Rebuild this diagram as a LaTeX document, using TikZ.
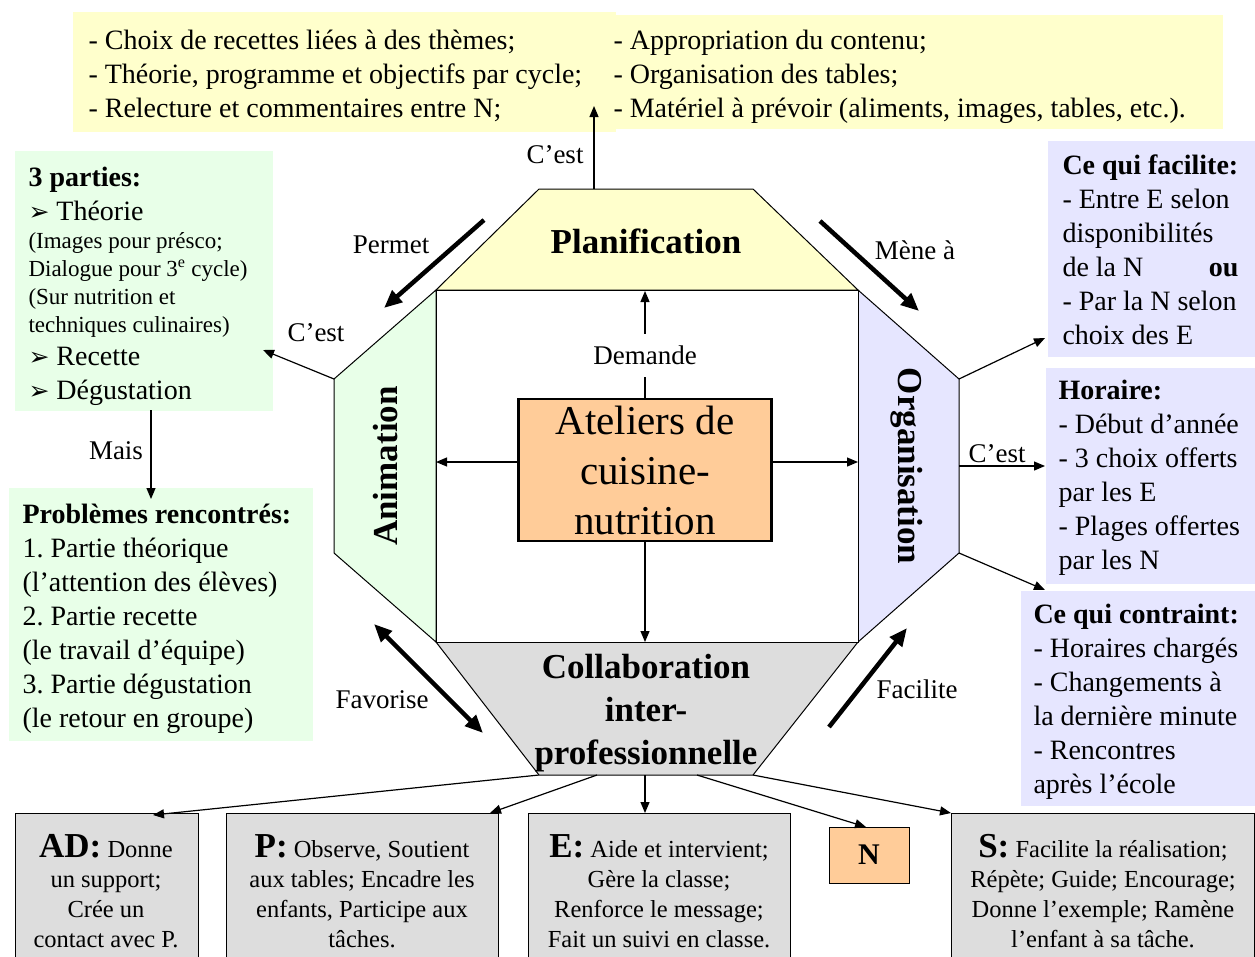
\documentclass[tikz,border=0pt]{standalone}
\usepackage{fontspec}
\setmainfont{Liberation Serif}
\newfontfamily\dejavu{DejaVu Sans}
\usetikzlibrary{arrows.meta,calc}
\definecolor{yel}{HTML}{FFFFCC}
\definecolor{grn}{HTML}{E8FFE8}
\definecolor{lav}{HTML}{E6E6FF}
\definecolor{gry}{HTML}{DDDDDD}
\definecolor{peach}{HTML}{FFCC99}
\newcommand{\fs}[2]{\fontsize{#1}{#2}\selectfont}
\newcommand{\tri}{{\dejavu\fs{25}{25}➢}}
\frenchspacing
\begin{document}
\begin{tikzpicture}[x=1pt,y=-1pt,line width=1pt,
  txt/.style={inner sep=0pt,anchor=north west,align=left,font=\fs{28}{34}},
  small/.style={inner sep=0pt,anchor=north west,align=left,font=\fs{23}{28}},
  lbl/.style={inner sep=1pt,font=\fs{27}{30}},
  big/.style={inner sep=0pt,font=\fs{35}{43}\bfseries,align=center},
  arr/.style={-{Triangle[length=11pt,width=9pt]},line width=1.2pt},
  fat/.style={-{Triangle[length=18pt,width=15pt]},line width=4.5pt},
  fatboth/.style={{Triangle[length=18pt,width=15pt]}-{Triangle[length=18pt,width=15pt]},line width=4.5pt},
  bbox/.style={draw,line width=1pt,fill=gry,inner sep=0pt,anchor=north west},
  bt/.style={align=center,font=\fs{24.5}{30},inner sep=0pt,anchor=north},
  panel/.style={inner sep=0pt,anchor=north west}]
\useasboundingbox (0,0) rectangle (1255,956);

% ---------- background panels ----------
\node[panel,fill=yel,minimum width=543pt,minimum height=120pt] (ytl) at (72,11) {};
\node[panel,fill=yel,minimum width=610pt,minimum height=114pt] (ytr) at (612,14) {};
\node[panel,fill=grn,minimum width=258pt,minimum height=260pt] (g1) at (14,150) {};
\node[panel,fill=grn,minimum width=304pt,minimum height=253pt] (g2) at (8,487) {};
\node[panel,fill=lav,minimum width=208pt,minimum height=216pt] (rf) at (1047,140) {};
\node[panel,fill=lav,minimum width=210pt,minimum height=216pt] (rh) at (1045,367) {};
\node[panel,fill=lav,minimum width=235pt,minimum height=215pt] (rc) at (1020,590) {};

% ---------- texts of panels ----------
\node[txt] (ytlT) at (88,25) {\strut- Choix de recettes liées à des thèmes;\\- Théorie, programme et objectifs par cycle;\\- Relecture et commentaires entre N;};
\node[txt] (ytrT) at (613,25) {\strut- Appropriation du contenu;\\- Organisation des tables;\\- Matériel à prévoir (aliments, images, tables, etc.).};

\node[txt] (g1a) at (28,162) {\strut\textbf{3 parties:}\\\tri\ Théorie};
\node[small] (g1b) at (28,228.5) {\strut(Images pour présco;\\Dialogue pour 3\textsuperscript{e} cycle)\\(Sur nutrition et\\techniques culinaires)};
\node[txt] (g1c) at (28,341) {\strut\tri\ Recette\\\tri\ Dégustation};

\node[txt] (g2T) at (22,499) {\strut\textbf{Problèmes rencontrés:}\\1. Partie théorique\\(l’attention des élèves)\\2. Partie recette\\(le travail d’équipe)\\3. Partie dégustation\\(le retour en groupe)};

\node[txt] (rfT) at (1062,150) {\strut\textbf{Ce qui facilite:}\\- Entre E selon\\disponibilités\\\makebox[176pt][l]{de la N\hfill\textbf{ou}}\\- Par la N selon\\choix des E};
\node[txt] (rhT) at (1058,375) {\strut\textbf{Horaire:}\\- Début d’année\\- 3 choix offerts\\par les E\\- Plages offertes\\par les N};
\node[txt] (rcT) at (1033,599) {\strut\textbf{Ce qui contraint:}\\- Horaires chargés\\- Changements à\\la dernière minute\\- Rencontres\\après l’école};

% ---------- octagon ----------
\coordinate (p1) at (539,189); \coordinate (p2) at (753,189);
\coordinate (q1) at (436,290); \coordinate (q2) at (858,290);
\coordinate (r1) at (334,379); \coordinate (r2) at (334,553);
\coordinate (s1) at (959,379); \coordinate (s2) at (959,553);
\coordinate (q3) at (436,642); \coordinate (q4) at (858,642);
\coordinate (b1) at (539,775); \coordinate (b2) at (753,775);

\draw[fill=yel] (p1) -- (p2) -- (q2) -- (q1) -- cycle;
\draw[fill=grn] (q1) -- (r1) -- (r2) -- (q3) -- cycle;
\draw[fill=lav] (q2) -- (s1) -- (s2) -- (q4) -- cycle;
\draw[fill=gry] (q3) -- (q4) -- (b2) -- (b1) -- cycle;
\draw[fill=white] (q1) rectangle (q4);

\node[big] (plan) at (646,241) {Planification};
\node[big,rotate=90] (anim) at (386,466) {Animation};
\node[big,rotate=-90] (orga) at (907,466) {Organisation};
\node[big] (collab) at (646,713) {Collaboration\\inter-\\professionnelle};

\node[draw,line width=2.5pt,fill=peach,minimum width=253pt,minimum height=142pt,inner sep=0pt,
      align=center,font=\fs{41}{50}] (atel) at (645,470) {Ateliers de\\cuisine-\\nutrition};

% ---------- central arrows ----------
\coordinate (pT) at (645,291);
\coordinate (aL) at (436,462);
\coordinate (aR) at (858,462);
\coordinate (aB) at (645,642);
\draw[arr] (atel.north) -- node[pos=0.4,fill=white,inner xsep=2pt,inner ysep=12pt,font=\fs{27}{30}] (dem) {Demande} (pT);
\draw[arr] (atel.west |- aL) -- (aL);
\draw[arr] (atel.east |- aR) -- (aR);
\draw[arr] (atel.south) -- (aB);

% ---------- thick arrows ----------
\coordinate (pm1) at (484,220); \coordinate (pm2) at (384,308);
\coordinate (ma1) at (820,221); \coordinate (ma2) at (919,311);
\coordinate (fa1) at (374,624); \coordinate (fa2) at (483,733);
\coordinate (fc1) at (829,727); \coordinate (fc2) at (907,628);
\draw[fat] (pm1) -- (pm2);
\draw[fat] (ma1) -- (ma2);
\draw[fatboth] (fa1) -- (fa2);
\draw[fat] (fc1) -- (fc2);
\node[lbl] (lpm) at (391,245) {Permet};
\node[lbl] (lma) at (915,250) {Mène à};
\node[lbl] (lfa) at (382,700) {Favorise};
\node[lbl] (lfc) at (917,689) {Facilite};

% ---------- thin arrows to panels ----------
\coordinate (topS) at (594,189); \coordinate (topE) at (594,106);
\draw[arr] (topS) -- (topE);
\node[lbl] (c1) at (555,155) {C’est};

\coordinate (lt) at (263,350);
\draw[arr] (r1) -- (lt);
\node[lbl] (c2) at (316,333) {C’est};

\coordinate (m1) at (151,410); \coordinate (m2) at (151,499);
\draw[arr] (m1) -- (m2);
\node[lbl] (mais) at (116,451) {Mais};

\coordinate (om) at (959,466);
\coordinate (tf) at (1045,338); \coordinate (th) at (1045,466); \coordinate (tc) at (1045,590);
\draw[arr] (s1) -- (tf);
\draw[arr] (om) -- (th);
\draw[arr] (s2) -- (tc);
\node[lbl] (c3) at (997,454) {C’est};

% ---------- bottom boxes ----------
\node[bbox,minimum width=183pt,minimum height=150pt] (ad) at (15,813) {};
\node[bbox,minimum width=272pt,minimum height=150pt] (pp) at (226,813) {};
\node[bbox,minimum width=262pt,minimum height=150pt] (ee) at (528,813) {};
\node[bbox,minimum width=303pt,minimum height=150pt] (ss) at (951,813) {};
\node[draw,line width=1pt,fill=peach,minimum width=80pt,minimum height=56pt,inner sep=0pt,
      font=\fs{30}{30}\bfseries] (nn) at (869,855) {N};

\node[bt] (adT) at (106,834) {{\fs{35}{35}\bfseries AD:} Donne\\un support;\\Crée un\\contact avec P.};
\node[bt] (ppT) at (362,834) {{\fs{35}{35}\bfseries P:} Observe,\ Soutient\\aux tables; Encadre les\\enfants, Participe aux\\tâches.};
\node[bt] (eeT) at (659,834) {{\fs{35}{35}\bfseries E:} Aide et intervient;\\Gère la classe;\\Renforce le message;\\Fait un suivi en classe.};
\node[bt] (ssT) at (1103,834) {{\fs{35}{35}\bfseries S:} Facilite la réalisation;\\Répète; Guide; Encourage;\\Donne l’exemple; Ramène\\l’enfant à sa tâche.};

\coordinate (bp) at (597,775); \coordinate (be) at (645,775); \coordinate (bn) at (697,775);
\coordinate (tAD) at (153,815); \coordinate (tP) at (490,813);
\coordinate (tE) at (645,813); \coordinate (tN) at (866,827); \coordinate (tS) at (951,813);
\draw[arr] (b1) -- (tAD);
\draw[arr] (bp) -- (tP);
\draw[arr] (be) -- (tE);
\draw[arr] (bn) -- (tN);
\draw[arr] (b2) -- (tS);
\end{tikzpicture}
\end{document}
